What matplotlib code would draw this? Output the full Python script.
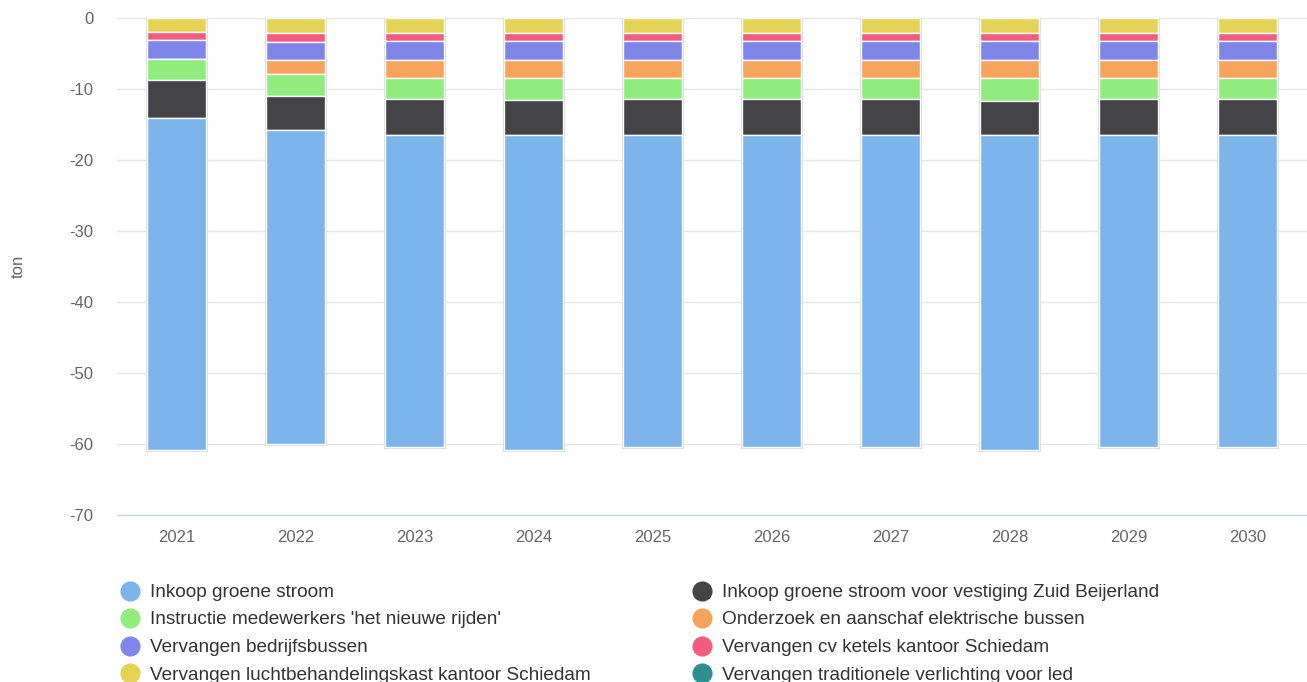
import matplotlib
matplotlib.use("Agg")
import matplotlib.pyplot as plt
from matplotlib.lines import Line2D
import numpy as np

plt.rcParams['font.family'] = ['Liberation Sans', 'DejaVu Sans']
plt.rcParams['axes.unicode_minus'] = False

years = ['2021', '2022', '2023', '2024', '2025', '2026', '2027', '2028', '2029', '2030']

inkoop_groene_stroom = [-46.65, -44.1, -43.85, -44.2, -43.8, -43.8, -43.8, -44.2, -43.8, -43.8]
inkoop_zuid_beijerland = [-5.45, -4.85, -5.1, -5.0, -5.1, -5.1, -5.1, -4.85, -5.1, -5.1]
instructie_medewerkers = [-2.85, -3.1, -3.0, -3.1, -3.0, -3.0, -3.0, -3.25, -3.0, -3.0]
elektrische_bussen = [0.0, -1.9, -2.5, -2.5, -2.5, -2.5, -2.5, -2.5, -2.5, -2.5]
bedrijfsbussen = [-2.8, -2.6, -2.65, -2.65, -2.65, -2.65, -2.65, -2.65, -2.65, -2.65]
cv_ketels = [-1.1, -1.2, -1.15, -1.15, -1.15, -1.15, -1.15, -1.15, -1.15, -1.15]
luchtbehandelingskast = [-2.0, -2.2, -2.2, -2.2, -2.2, -2.2, -2.2, -2.2, -2.2, -2.2]
verlichting_led = [0.0, 0.0, 0.0, 0.0, 0.0, 0.0, 0.0, 0.0, 0.0, 0.0]

series = [
    ("Inkoop groene stroom", inkoop_groene_stroom, "#7cb5ec"),
    ("Inkoop groene stroom voor vestiging Zuid Beijerland", inkoop_zuid_beijerland, "#434348"),
    ("Instructie medewerkers 'het nieuwe rijden'", instructie_medewerkers, "#90ed7d"),
    ("Onderzoek en aanschaf elektrische bussen", elektrische_bussen, "#f7a35c"),
    ("Vervangen bedrijfsbussen", bedrijfsbussen, "#8085e9"),
    ("Vervangen cv ketels kantoor Schiedam", cv_ketels, "#f15c80"),
    ("Vervangen luchtbehandelingskast kantoor Schiedam", luchtbehandelingskast, "#e4d354"),
    ("Vervangen traditionele verlichting voor led", verlichting_led, "#2b908f"),
]

W, H = 1307, 682
fig = plt.figure(figsize=(W/100, H/100), dpi=100)
ax = fig.add_axes([117/W, 1 - 515/H, 1 - 117/W, (515 - 17.5)/H])

x = np.arange(len(years))
bottom = np.zeros(len(years))
# stack from zero outward: last series closest to zero
for name, vals, col in reversed(series):
    v = np.array(vals)
    ax.bar(x, v, width=0.5, bottom=bottom, color=col, edgecolor='white', linewidth=1, zorder=3)
    bottom = bottom + v
# faint shadow outline around each full stack
ax.bar(x, bottom, width=0.5, bottom=0, facecolor='none', edgecolor='#d9d9d9',
       linewidth=2.2, zorder=2)

ax.set_xlim(-0.5, len(years) - 0.5)
ax.set_ylim(-70, 0)
ax.set_yticks(np.arange(-70, 1, 10))
ax.set_xticks(x)
ax.set_xticklabels(years)
ax.grid(axis='y', color='#e6e6e6', linewidth=1, zorder=0)
for s in ['top', 'right', 'left']:
    ax.spines[s].set_visible(False)
ax.spines['bottom'].set_color('#ccd6eb')
ax.spines['bottom'].set_linewidth(1)
ax.tick_params(axis='y', length=0, pad=17, labelsize=12, labelcolor='#666666')
ax.tick_params(axis='x', length=0, pad=11, labelsize=12, labelcolor='#666666')
ax.set_ylabel('ton', fontsize=12, color='#666666')
ax.yaxis.set_label_coords((26 - 117)/1190, 0.5)

# legend, row-major order as in the reference (two columns)
row_y = [590.5, 618, 645.5, 673]
col_marker_x = [130, 701.5]
col_text_x = [150, 722]
for i, (name, _, col) in enumerate(series):
    r, c = i // 2, i % 2
    fig.add_artist(Line2D([col_marker_x[c]/W], [1 - row_y[r]/H], transform=fig.transFigure,
                          marker='o', linestyle='none', markersize=13.5,
                          markerfacecolor=col, markeredgecolor=col))
    fig.text(col_text_x[c]/W, 1 - (row_y[r] + 6.5)/H, name, fontsize=13.7, color='#333333',
             ha='left', va='baseline')

fig.savefig('out.png', dpi=100)
